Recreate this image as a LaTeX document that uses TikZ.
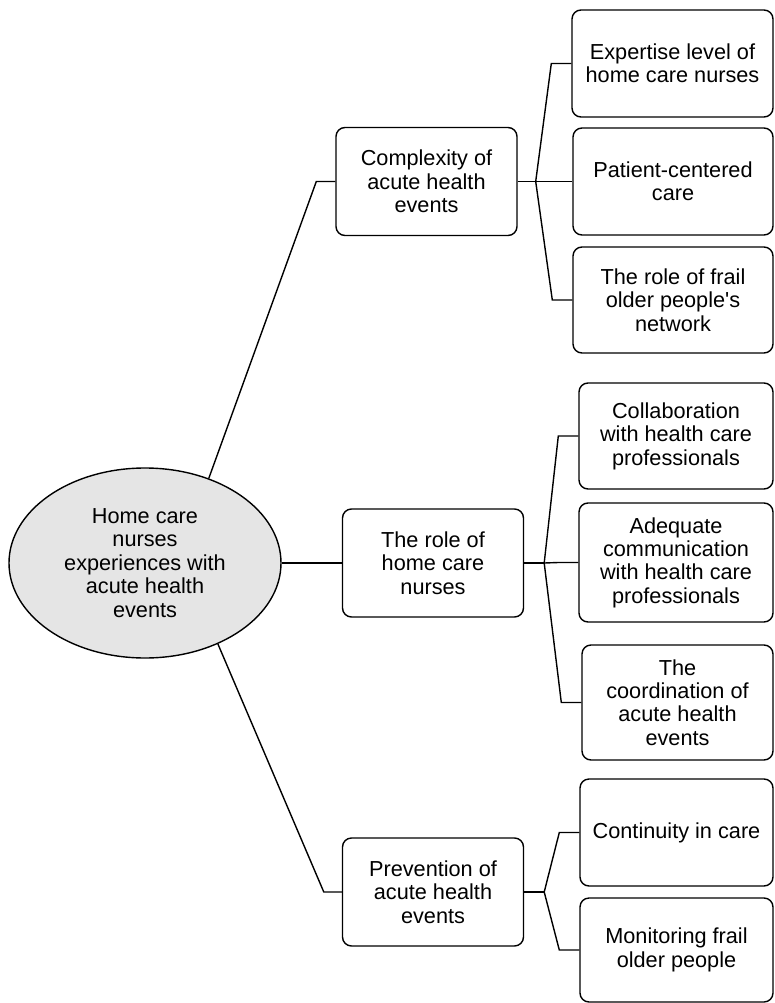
\documentclass[tikz,border=0pt]{standalone}
\usepackage{fontspec}
\setmainfont{Liberation Sans}
\usetikzlibrary{shapes.geometric}

\begin{document}
\begin{tikzpicture}[
  x=1pt, y=-1pt,
  font=\fontsize{21.7}{23.4}\selectfont,
  hub/.style={ellipse, draw=black, line width=1.4pt, fill=black!10,
              minimum width=272pt, minimum height=190pt, align=center, inner sep=0pt},
  theme/.style={draw=black, line width=1.4pt, fill=white, rounded corners=9pt,
                align=center, inner sep=2pt, minimum width=181pt, minimum height=108pt},
  sub/.style={draw=black, line width=1.4pt, fill=white, rounded corners=9pt,
              align=center, inner sep=2pt, minimum height=107pt},
  link/.style={line width=1.4pt},
]
\useasboundingbox (0,0) rectangle (774,1003);

% ---- central topic ----
\node[hub] (root) at (145,563) {Home care\\nurses\\experiences with\\acute health\\events};

% ---- themes ----
\node[theme] (comp) at (426.5,181.5) {Complexity of\\acute health\\events};
\node[theme] (role) at (433,563)     {The role of\\home care\\nurses};
\node[theme] (prev) at (433,892)     {Prevention of\\acute health\\events};

% ---- sub-themes ----
\node[sub, minimum width=201pt] (exp)   at (672.5,63.5)  {Expertise level of\\home care nurses};
\node[sub, minimum width=200pt] (pat)   at (673,181.5)   {Patient-centered\\care};
\node[sub, minimum width=200pt, minimum height=106pt] (net) at (673,300) {The role of frail\\older people\textquotesingle s\\network};
\node[sub, minimum width=194pt, minimum height=106pt] (coll) at (676,436) {Collaboration\\with health care\\professionals};
\node[sub, minimum width=194pt, minimum height=119pt] (adeq) at (676,562.5) {Adequate\\communication\\with health care\\professionals};
\node[sub, minimum width=191pt, minimum height=115pt] (coord) at (677.5,702.5) {The\\coordination of\\acute health\\events};
\node[sub, minimum width=193pt] (cont)  at (676.5,832.5) {Continuity in care};
\node[sub, minimum width=193pt, minimum height=104pt] (mon) at (676.5,950) {Monitoring frail\\older people};

% ---- edges: centre to themes ----
\draw[link] (root.53)   -- ([xshift=-19pt]comp.west) -- (comp.west);
\draw[link] (root.east) -- (role.west);
\draw[link] (root.-48)  -- ([xshift=-18pt]prev.west) -- (prev.west);

% ---- edges: themes to sub-themes ----
\coordinate (cj) at ([xshift=18pt]comp.east);
\coordinate (rj) at ([xshift=20pt]role.east);
\coordinate (pj) at ([xshift=20pt]prev.east);
\draw[link] (comp.east) -- (cj);
\draw[link] (role.east) -- (rj);
\draw[link] (prev.east) -- (pj);
\foreach \c in {exp,pat,net}
  \draw[link] (cj) -- ([xshift=-20pt]\c.west) -- (\c.west);
\foreach \c in {coll,adeq,coord}
  \draw[link] (rj) -- ([xshift=-20pt]\c.west) -- (\c.west);
\foreach \c in {cont,mon}
  \draw[link] (pj) -- ([xshift=-20pt]\c.west) -- (\c.west);

\end{tikzpicture}
\end{document}
